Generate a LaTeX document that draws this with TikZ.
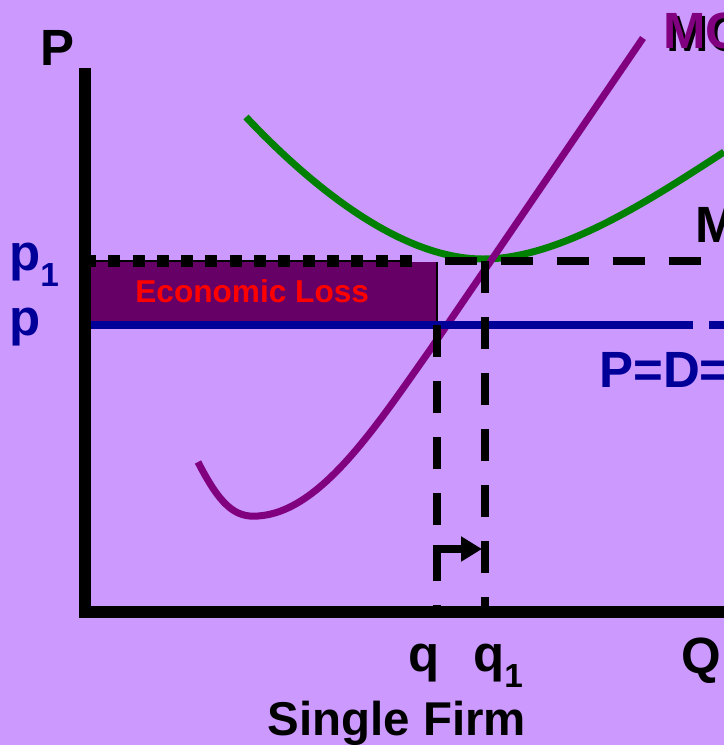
\documentclass[tikz,border=0pt]{standalone}
\usepackage{fontspec}
\setmainfont{Liberation Sans}
\usetikzlibrary{arrows.meta}
\definecolor{cBg}{RGB}{204,153,255}
\definecolor{cLoss}{RGB}{102,0,102}
\definecolor{cMC}{RGB}{128,0,128}
\definecolor{cATC}{RGB}{0,128,0}
\definecolor{cPrice}{RGB}{0,0,153}
\newcommand{\sublbl}[1]{\raisebox{-0.33em}{\fontsize{19}{19}\selectfont #1}}

\begin{document}
\begin{tikzpicture}[x=0.02cm,y=-0.02cm,
  lbl/.style={anchor=base west,inner sep=0pt,font=\fontsize{29}{29}\selectfont\bfseries},
  dashln/.style={line width=0.16cm,dash pattern=on 0.64cm off 0.48cm}]
\clip (0,0) rectangle (724,745);
\fill[cBg] (0,0) rectangle (724,745);
\fill[cLoss] (91,262) rectangle (437,325);
\draw[line width=0.03cm] (437,262) -- (437,325);
\draw[line width=0.03cm] (85,261) -- (412,261);
\draw[line width=0.24cm,dash pattern=on 0.24cm off 0.246cm] (84,261) -- (412,261);
\draw[cATC,line width=0.14cm] (246,117) .. controls (310,185) and (400,259) .. (483,259) .. controls (560,259) and (650,200) .. (724,152);
\draw[cMC,line width=0.14cm] (198,462) .. controls (220,505) and (235,518) .. (258,516) .. controls (320,512) and (375,428) .. (430,350) -- (643,38);
\draw[cPrice,line width=0.16cm] (85,325) -- (693,325);
\draw[cPrice,line width=0.16cm] (709,325) -- (730,325);
\draw[dashln] (445,261) -- (701,261);
\draw[dashln] (485,261) -- (485,612);
\draw[dashln] (437,325) -- (437,612);
\draw[line width=0.16cm,-{Triangle[length=0.42cm,width=0.48cm]}] (437,580) -- (437,549) -- (482,549);
\draw[line width=0.24cm] (85,68) -- (85,612) -- (730,612);
\node[lbl] (pAxis) at (40,65) {P};
\node[lbl,cPrice] (pOne) at (9,270) {p\sublbl{1}};
\node[lbl,cPrice] (pZero) at (9,335) {p};
\node[lbl] (qZero) at (408,671) {q};
\node[lbl] (qOne) at (473,671) {q\sublbl{1}};
\node[lbl] (qAxis) at (681,673) {Q};
\node[lbl,anchor=base,font=\fontsize{27}{27}\selectfont\bfseries] (firm) at (397,735) {Single Firm};
\node[lbl,text=red,font=\fontsize{18}{18}\selectfont\bfseries] (loss) at (135,302) {Economic Loss};
\node[lbl,cPrice] (pdmr) at (599,387) {P=D=};
\node[lbl] (mOne) at (695,242) {M};
\node[lbl] (mcShade) at (666,51) {MC};
\node[lbl,cMC] (mc) at (663,48) {MC};
\end{tikzpicture}
\end{document}
